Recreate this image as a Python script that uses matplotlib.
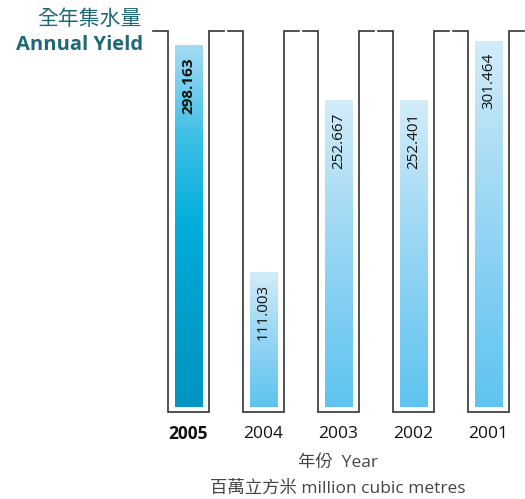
import numpy as np
import matplotlib
matplotlib.use("Agg")
import matplotlib.pyplot as plt
from matplotlib.colors import LinearSegmentedColormap

plt.rcParams['font.family'] = ['Open Sans', 'Noto Sans CJK TC', 'DejaVu Sans']

# Annual yield (million cubic metres)
years = ["2005", "2004", "2003", "2002", "2001"]
yields = [298.163, 111.003, 252.667, 252.401, 301.464]
value_labels = ["298.163", "111.003", "252.667", "252.401", "301.464"]
highlight = "2005"

W, H = 525, 499
fig = plt.figure(figsize=(W / 100, H / 100), dpi=100)

# axes placed in pixel terms: 75 px per category, 1.2145 px per unit
ax_left, ax_right = 151, 526
ax_top, ax_bottom = 31, 412
ax = fig.add_axes([ax_left / W, (H - ax_bottom) / H,
                   (ax_right - ax_left) / W, (ax_bottom - ax_top) / H])
px_per_unit = 1.2145
ymin = -5 / px_per_unit
ymax = (407 - 31) / px_per_unit
ax.axis("off")

x = np.arange(len(years))
bar_w = 28 / 75
tube_w = 41 / 75
lip = 15 / 75

cmap_hi = LinearSegmentedColormap.from_list(
    "hi", ["#a6daf3", "#3fc0e6", "#00addb", "#009ecb", "#0095c3"])
cmap_lo = LinearSegmentedColormap.from_list(
    "lo", ["#d3ecf9", "#a9dcf5", "#82cff2", "#5ec4ef"])

bars = ax.bar(x, yields, width=bar_w, bottom=0, color="none", edgecolor="none")
grad = np.linspace(0, 1, 256).reshape(-1, 1)
for i, b in enumerate(bars):
    cm = cmap_hi if years[i] == highlight else cmap_lo
    x0, w, h = b.get_x(), b.get_width(), b.get_height()
    im = ax.imshow(grad, cmap=cm, aspect="auto", extent=(x0, x0 + w, 0, h),
                   origin="upper", vmin=0, vmax=1, zorder=2)
    im.set_clip_path(b)

ax.set_xlim(-0.5, len(years) - 0.5)
ax.set_ylim(ymin, ymax)

# tube outlines with small outward lips at the top
for xi in x:
    l, r = xi - tube_w / 2, xi + tube_w / 2
    ax.plot([l - lip, l, l, r, r, r + lip],
            [ymax, ymax, ymin, ymin, ymax, ymax],
            color="#333333", lw=1.2, solid_joinstyle="miter",
            clip_on=False, zorder=3)

# value labels inside the bars
for xi, v, lab, yr in zip(x, yields, value_labels, years):
    ax.text(xi, v - 12 / px_per_unit, lab, rotation=90, ha="center", va="top",
            fontsize=11, color="#111111",
            fontweight="bold" if yr == highlight else "normal", zorder=4)

# year labels
for xi, yr in zip(x, years):
    ax.text(xi, ymin - 22 / px_per_unit, yr, ha="center", va="center",
            fontsize=12.5, color="#111111",
            fontweight="bold" if yr == highlight else "normal",
            clip_on=False)

teal = "#1f6878"
fig.text(142 / W, 1 - 19 / H, "全年集水量", ha="right", va="center",
         fontsize=15, color=teal)
fig.text(143 / W, 1 - 45 / H, "Annual Yield", ha="right", va="center",
         fontsize=14.5, color=teal, fontweight="bold")

fig.text(338 / W, 1 - 463 / H, "年份  Year", ha="center", va="center",
         fontsize=12.5, color="#444444")
fig.text(338 / W, 1 - 489 / H, "百萬立方米 million cubic metres", ha="center",
         va="center", fontsize=12.5, color="#444444")

fig.savefig("out.png", dpi=100, facecolor="white")
